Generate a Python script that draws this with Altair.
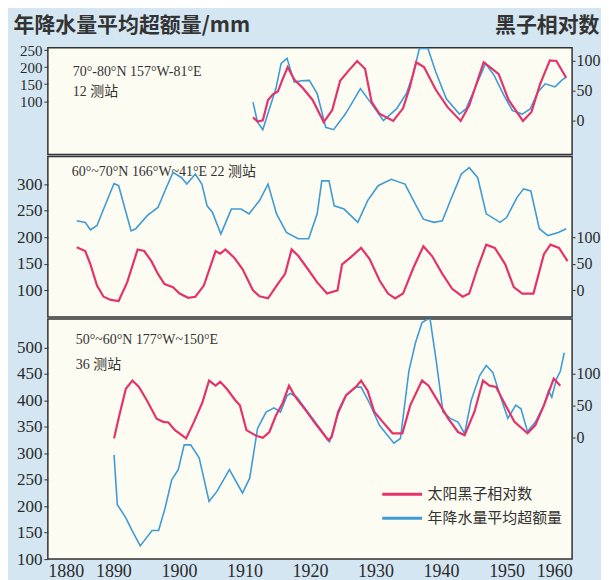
import altair as alt
import pandas as pd

# ---------------- data ----------------
# top panel 70-80N
top_ss_year = [1911.3, 1912.0, 1912.8, 1913.6, 1914.3, 1915.1, 1915.8, 1916.6, 1917.6, 1918.9,
               1920.4, 1922.1, 1923.4, 1924.6, 1925.9, 1927.2, 1928.4, 1929.4, 1930.6, 1932.7,
               1934.2, 1935.2, 1936.2, 1937.4, 1939.2, 1941.0, 1943.0, 1944.3, 1946.5, 1947.8,
               1948.8, 1950.3, 1952.5, 1953.8, 1955.1, 1956.6, 1957.6, 1959.1]
top_ss = [5, -2, 0, 34, 43, 48, 68, 89, 68, 54,
          34, -3, 17, 66, 83, 99, 86, 31, 11, -1,
          20, 54, 97, 89, 51, 22, -1, 25, 97, 86,
          77, 34, -1, 14, 60, 100, 99, 71]
top_pr_year = [1911.3, 1912.0, 1912.8, 1913.8, 1914.8, 1915.6, 1916.5, 1917.6, 1918.7, 1919.9,
               1921.1, 1922.4, 1923.6, 1925.4, 1927.7, 1929.4, 1931.2, 1933.2, 1934.7, 1935.7,
               1936.7, 1938.0, 1939.2, 1940.8, 1942.8, 1943.8, 1945.8, 1946.8, 1948.1, 1949.6,
               1950.9, 1952.4, 1953.6, 1954.8, 1955.9, 1957.4, 1958.4, 1959.1]
top_pr = [97, 38, 16, 77, 137, 211, 226, 156, 160, 161,
          122, 23, 16, 62, 137, 92, 43, 77, 122, 176,
          255, 255, 186, 107, 62, 77, 166, 211, 176, 117,
          72, 62, 77, 127, 151, 142, 161, 171]

# middle panel 60-70N
mid_ss_year = [1884.4, 1885.7, 1886.5, 1887.5, 1888.5, 1889.6, 1890.8, 1892.1, 1893.7, 1894.7,
               1895.8, 1896.8, 1897.8, 1899.1, 1900.1, 1901.4, 1902.5, 1903.8, 1905.6, 1906.3,
               1907.1, 1908.4, 1909.7, 1911.3, 1912.3, 1913.6, 1915.1, 1916.2, 1917.2, 1918.2,
               1919.5, 1921.1, 1922.6, 1924.2, 1924.9, 1926.2, 1927.8, 1929.1, 1930.6, 1931.9,
               1933.0, 1934.2, 1935.8, 1937.3, 1938.6, 1940.2, 1941.7, 1943.3, 1944.3, 1945.6,
               1946.9, 1948.2, 1949.8, 1951.1, 1952.4, 1954.1, 1955.7, 1956.7, 1958.0, 1959.3]
mid_ss = [81, 74, 49, 9, -12, -18, -20, 15, 77, 74,
          55, 31, 12, 6, -6, -14, -12, 9, 74, 69,
          77, 62, 40, 0, -11, -15, 12, 31, 77, 65,
          43, 15, -6, 0, 49, 62, 80, 59, 19, -6,
          -15, -6, 43, 83, 65, 31, 3, -12, -6, 43,
          86, 80, 49, 6, -6, -6, 68, 86, 80, 55]
mid_pr_year = [1884.4, 1885.7, 1886.5, 1887.5, 1888.8, 1890.1, 1890.8, 1892.7, 1893.4, 1895.2,
               1896.8, 1898.1, 1899.1, 1900.4, 1901.2, 1902.5, 1903.5, 1904.3, 1905.1, 1906.4,
               1908.0, 1909.5, 1910.7, 1912.3, 1913.6, 1914.9, 1916.4, 1918.2, 1919.8, 1921.1,
               1921.8, 1922.9, 1923.7, 1925.2, 1927.3, 1928.8, 1930.4, 1932.4, 1934.5, 1936.1,
               1937.3, 1938.9, 1940.2, 1941.2, 1943.1, 1944.3, 1945.6, 1946.9, 1949.0, 1950.0,
               1951.6, 1952.6, 1953.7, 1955.0, 1956.3, 1957.9, 1959.1]
mid_pr = [231, 228, 214, 222, 262, 301, 297, 212, 216, 241,
          256, 294, 322, 312, 300, 319, 300, 259, 247, 206,
          253, 253, 244, 269, 300, 244, 209, 197, 197, 244,
          306, 306, 259, 253, 228, 269, 297, 309, 300, 262,
          234, 228, 231, 262, 319, 331, 312, 244, 228, 237,
          275, 291, 287, 216, 203, 209, 216]

# bottom panel 50-60N
bot_ss_year = [1890.1, 1890.9, 1891.9, 1892.9, 1893.9, 1895.1, 1896.6, 1897.6, 1898.4, 1899.4,
               1901.1, 1902.3, 1903.6, 1904.6, 1905.6, 1906.3, 1907.3, 1908.6, 1909.3, 1910.3,
               1911.8, 1912.8, 1913.8, 1914.8, 1915.8, 1916.8, 1917.5, 1918.0, 1919.5, 1921.0,
               1922.8, 1923.3, 1924.3, 1925.5, 1927.0, 1927.8, 1928.8, 1929.8, 1931.1, 1932.6,
               1934.1, 1935.3, 1937.1, 1938.1, 1939.6, 1941.1, 1942.6, 1943.6, 1945.1, 1946.4,
               1947.4, 1948.4, 1949.6, 1951.2, 1953.2, 1954.4, 1955.7, 1957.2, 1958.2]
bot_ss = [-2, 34, 76, 89, 79, 58, 29, 24, 23, 11,
          -2, 24, 55, 89, 81, 87, 76, 58, 50, 11,
          2, -1, 8, 34, 53, 81, 68, 60, 40, 19,
          -5, 0, 40, 66, 79, 89, 73, 40, 24, 6,
          6, 50, 89, 81, 55, 29, 8, 3, 40, 89,
          81, 79, 55, 24, 6, 19, 50, 92, 81]
bot_pr_year = [1890.1, 1890.6, 1891.9, 1892.9, 1894.1, 1895.9, 1896.9, 1897.9, 1898.9, 1899.9,
               1900.8, 1901.8, 1903.1, 1904.6, 1905.8, 1907.7, 1909.7, 1910.8, 1912.0, 1913.3,
               1914.5, 1915.5, 1916.5, 1917.0, 1918.0, 1919.5, 1921.0, 1923.0, 1924.3, 1925.5,
               1927.0, 1927.8, 1929.0, 1930.6, 1932.8, 1933.8, 1935.1, 1936.1, 1937.1, 1938.3,
               1939.3, 1940.3, 1941.4, 1942.6, 1943.6, 1944.6, 1945.9, 1946.9, 1947.9, 1949.1,
               1950.2, 1951.4, 1952.2, 1953.2, 1954.4, 1955.7, 1956.4, 1956.9, 1957.6, 1958.2,
               1958.8]
bot_pr = [297, 203, 178, 153, 125, 154, 154, 197, 250, 269,
          316, 316, 291, 209, 228, 269, 225, 253, 347, 378,
          386, 378, 409, 413, 406, 381, 356, 322, 375, 409,
          425, 425, 397, 353, 319, 328, 456, 509, 547, 556,
          472, 378, 366, 359, 337, 400, 447, 466, 453, 406,
          366, 391, 384, 341, 359, 391, 418, 406, 440, 455,
          490]

year_ticks = [1880, 1890, 1900, 1910, 1920, 1930, 1940, 1950, 1960]
SS_NAME = "太阳黑子相对数"
PR_NAME = "年降水量平均超额量"
PINK = "#e3336c"
BLUE = "#3f9bd6"

SERIF = "Liberation Serif"
CJK = "Noto Sans CJK SC"
MIXED = "Liberation Serif, Noto Sans CJK SC"
LABEL_COLOR = "#2a2a2a"

W = 526


def panel(ss_y, ss_v, pr_y, pr_v, left_dom, right_dom, left_vals, height,
          notes, show_x=False, legend=False, titles=False, left_fs=17):
    ss_df = pd.DataFrame({"year": ss_y, "v": ss_v})
    pr_df = pd.DataFrame({"year": pr_y, "v": pr_v})
    if show_x:
        xaxis = alt.Axis(values=year_ticks, format="d", title=None, ticks=False,
                         labelPadding=3, labelFont=SERIF, labelFontSize=18,
                         labelColor=LABEL_COLOR, domain=False, grid=False)
    else:
        xaxis = None
    x = alt.X("year:Q", scale=alt.Scale(domain=[1880, 1960], nice=False, zero=False), axis=xaxis)
    color_scale = alt.Scale(domain=[SS_NAME, PR_NAME], range=[PINK, BLUE])
    if legend:
        leg = alt.Legend(title=None, orient="none", legendX=334, legendY=165,
                         symbolType="stroke", symbolStrokeWidth=3, symbolSize=1600,
                         labelFont=CJK, labelFontSize=15, labelColor="#333",
                         rowPadding=2, labelOffset=4, clipHeight=22)
    else:
        leg = None

    lkw = dict(orient="left", values=left_vals, grid=False, domain=False, tickSize=4,
               labelPadding=2, minExtent=36, title=None, labelFont=SERIF,
               labelFontSize=left_fs, labelColor=LABEL_COLOR, tickColor="#333")
    rkw = dict(orient="right", values=[0, 50, 100], grid=False, domain=False, tickSize=3,
               labelPadding=1, labelFont=SERIF, labelFontSize=16, labelColor=LABEL_COLOR,
               tickColor="#333", title=None)
    if titles:
        lkw.update(title="年降水量平均超额量/mm", titleAngle=0, titleAlign="left",
                   titleBaseline="middle", titleX=-35, titleY=-22, titleFont=CJK,
                   titleFontSize=21, titleFontWeight="bold", titleColor="#333")
        rkw.update(title="黑子相对数", titleAngle=0, titleAlign="right",
                   titleBaseline="middle", titleX=27, titleY=-22, titleFont=CJK,
                   titleFontSize=21, titleFontWeight="bold", titleColor="#333")

    pr_line = alt.Chart(pr_df).mark_line(strokeWidth=1.6, clip=True).encode(
        x=x,
        y=alt.Y("v:Q", scale=alt.Scale(domain=left_dom, nice=False, zero=False),
                axis=alt.Axis(**lkw)),
        color=alt.Color("s:N", scale=color_scale, legend=leg),
    ).transform_calculate(s=f"'{PR_NAME}'")
    ss_line = alt.Chart(ss_df).mark_line(strokeWidth=2.2, clip=True).encode(
        x=x,
        y=alt.Y("v:Q", scale=alt.Scale(domain=right_dom, nice=False, zero=False),
                axis=alt.Axis(**rkw)),
        color=alt.Color("s:N", scale=color_scale, legend=leg),
    ).transform_calculate(s=f"'{SS_NAME}'")

    layers = [pr_line, ss_line]
    for (txt, tx, ty) in notes:
        layers.append(
            alt.Chart(pd.DataFrame({"t": [txt]})).mark_text(
                align="left", baseline="middle", font=MIXED, fontSize=14, color="#333"
            ).encode(x=alt.value(tx), y=alt.value(ty), text="t:N")
        )
    return alt.layer(*layers).resolve_scale(y="independent").properties(width=W, height=height)


top = panel(top_ss_year, top_ss, top_pr_year, top_pr, [-57, 257], [-57, 121],
            [100, 150, 200, 250], 107,
            [("70°-80°N  157°W-81°E", 25, 24), ("12 测站", 25, 44)], titles=True, left_fs=15)
mid = panel(mid_ss_year, mid_ss, mid_pr_year, mid_pr, [50, 352], [-50, 252],
            [100, 150, 200, 250, 300], 161,
            [("60°~70°N  166°W~41°E  22 测站", 24, 16)])
bot = panel(bot_ss_year, bot_ss, bot_pr_year, bot_pr, [100, 554], [-192, 186],
            [100, 150, 200, 250, 300, 350, 400, 450, 500], 241,
            [("50°~60°N  177°W~150°E", 28, 21), ("36 测站", 28, 46)], show_x=True, legend=True)

chart = alt.vconcat(top, mid, bot, spacing=0).resolve_scale(
    color="independent", x="shared"
).resolve_legend(color="independent").properties(
    padding={"left": 3, "top": 5, "right": 0, "bottom": 0},
    background="#d4e6f2",
).configure_view(
    stroke="#333", strokeWidth=1.5, fill="#fdfcf2"
)

chart.save("out.html", embed_options={"renderer": "svg", "actions": False})
